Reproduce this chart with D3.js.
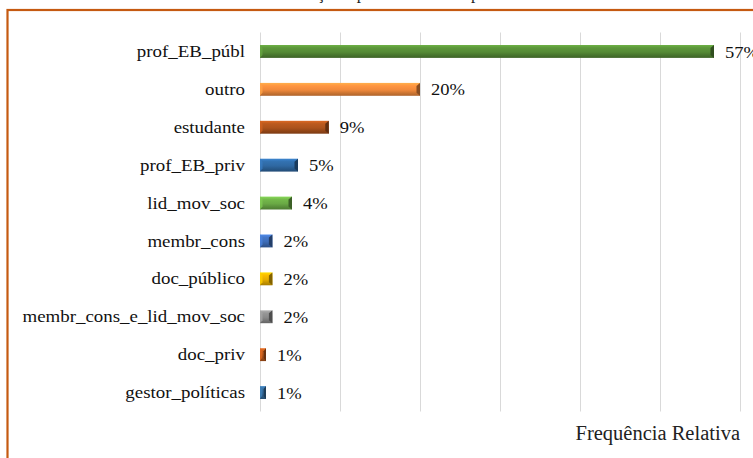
<!DOCTYPE html>
<html>
<head>
<meta charset="utf-8">
<script src="https://cdn.jsdelivr.net/npm/d3@7"></script>
<style>
  html, body { margin: 0; padding: 0; background: #fff; }
  svg { display: block; }
  text { font-family: "Liberation Serif", "Times New Roman", serif; }
</style>
</head>
<body>
<svg id="chart" width="753" height="458"></svg>
<script>
// Occupation of respondents (relative frequency)
const categories = [
  "prof_EB_públ", "outro", "estudante", "prof_EB_priv", "lid_mov_soc",
  "membr_cons", "doc_público", "membr_cons_e_lid_mov_soc", "doc_priv", "gestor_políticas"
];
const shares = [0.5675, 0.20, 0.086, 0.0475, 0.04, 0.0155, 0.0155, 0.0155, 0.0075, 0.0075];
const barColors = [
  "#558a36", "#f0893b", "#ac521b", "#2f68a2", "#6aa945",
  "#3e6db8", "#e6ad00", "#8a8a8a", "#b8581c", "#356a9a"
];
const gridTicks = [0, 0.1, 0.2, 0.3, 0.4, 0.5, 0.6];
const chartTitle = "Atuação e profissão dos respondentes";
const axisTitle = "Frequência Relativa";

const SERIF = "'Liberation Serif', 'Times New Roman', serif";
const svg = d3.select("#chart");

// widen glyph runs slightly, the labels are set a touch wider than the font
function stretch(sel, k) {
  sel.each(function () {
    const len = this.getComputedTextLength();
    d3.select(this).attr("textLength", len * k).attr("lengthAdjust", "spacingAndGlyphs");
  });
}

// chart frame (runs past the right and bottom edges)
svg.append("rect")
  .attr("x", 7.5).attr("y", 10).attr("width", 800).attr("height", 500)
  .attr("fill", "#fff").attr("stroke", "#c55a11").attr("stroke-width", 2.2);

// title, mostly above the visible area
svg.append("text")
  .attr("x", 284).attr("y", -1.5)
  .style("font-family", SERIF)
  .attr("font-size", 17).attr("fill", "#222")
  .text(chartTitle);

const x = d3.scaleLinear().domain([0, 0.6]).range([260, 740]);
const y = d3.scaleBand().domain(categories).range([32.5, 411.5])
  .paddingInner(0.66).paddingOuter(0.33);

// vertical gridlines
const grid = svg.append("g").attr("transform", `translate(0,${32.5})`)
  .call(d3.axisBottom(x).tickValues(gridTicks).tickSize(411.5 - 32.5).tickFormat(""));
grid.select(".domain").remove();
grid.selectAll(".tick line").attr("stroke", "#d9d9d9").attr("stroke-width", 1);

// category axis
const yAxis = svg.append("g").attr("transform", `translate(${x(0)},0)`)
  .call(d3.axisLeft(y).tickSize(0).tickPadding(15));
yAxis.attr("font-family", null);
yAxis.select(".domain").remove();
yAxis.selectAll(".tick text")
  .style("font-family", SERIF)
  .attr("font-size", 17.5).attr("fill", "#111")
  .call(stretch, 1.08);

// bevel gradients
const defs = svg.append("defs");
barColors.forEach((c, i) => {
  const g = defs.append("linearGradient").attr("id", "bev" + i)
    .attr("x1", 0).attr("y1", 0).attr("x2", 0).attr("y2", 1);
  const base = d3.color(c);
  g.append("stop").attr("offset", "0%").attr("stop-color", base.brighter(0.7));
  g.append("stop").attr("offset", "22%").attr("stop-color", base.brighter(0.25));
  g.append("stop").attr("offset", "55%").attr("stop-color", base);
  g.append("stop").attr("offset", "78%").attr("stop-color", base.darker(0.45));
  g.append("stop").attr("offset", "100%").attr("stop-color", base.darker(0.9));
});

const rows = categories.map((c, i) => ({ cat: c, v: shares[i], i }));

const bars = svg.append("g").selectAll("g").data(rows).join("g");

bars.append("rect")
  .attr("x", x(0)).attr("y", d => y(d.cat))
  .attr("width", d => x(d.v) - x(0)).attr("height", y.bandwidth())
  .attr("fill", d => `url(#bev${d.i})`);

// right end cap (dark) and left end cap (light)
bars.append("path")
  .attr("fill", d => d3.color(barColors[d.i]).darker(1.6))
  .attr("d", d => {
    const x1 = x(d.v), y0 = y(d.cat), y1 = y0 + y.bandwidth();
    const b = Math.min(3.5, (x1 - x(0)) / 2.5);
    return `M${x1},${y0} L${x1},${y1} L${x1 - b},${y1 - 3} L${x1 - b},${y0 + 3} Z`;
  });
bars.append("path")
  .attr("fill", d => d3.color(barColors[d.i]).brighter(0.5))
  .attr("opacity", 0.8)
  .attr("d", d => {
    const x0 = x(0), y0 = y(d.cat), y1 = y0 + y.bandwidth();
    const b = Math.min(2.5, (x(d.v) - x0) / 3);
    return `M${x0},${y0} L${x0},${y1} L${x0 + b},${y1 - 3} L${x0 + b},${y0 + 3} Z`;
  });

// value labels
const pct = d3.format(".0%");
bars.append("text")
  .attr("x", d => x(d.v) + 11)
  .attr("y", d => y(d.cat) + y.bandwidth() / 2)
  .attr("dy", "0.35em")
  .style("font-family", SERIF)
  .attr("font-size", 17.5).attr("fill", "#111")
  .text(d => pct(d.v))
  .call(stretch, 1.06);

// axis title
svg.append("text")
  .attr("x", 740).attr("y", 440)
  .attr("text-anchor", "end")
  .style("font-family", SERIF)
  .attr("font-size", 20.5).attr("fill", "#222")
  .text(axisTitle);
</script>
</body>
</html>
